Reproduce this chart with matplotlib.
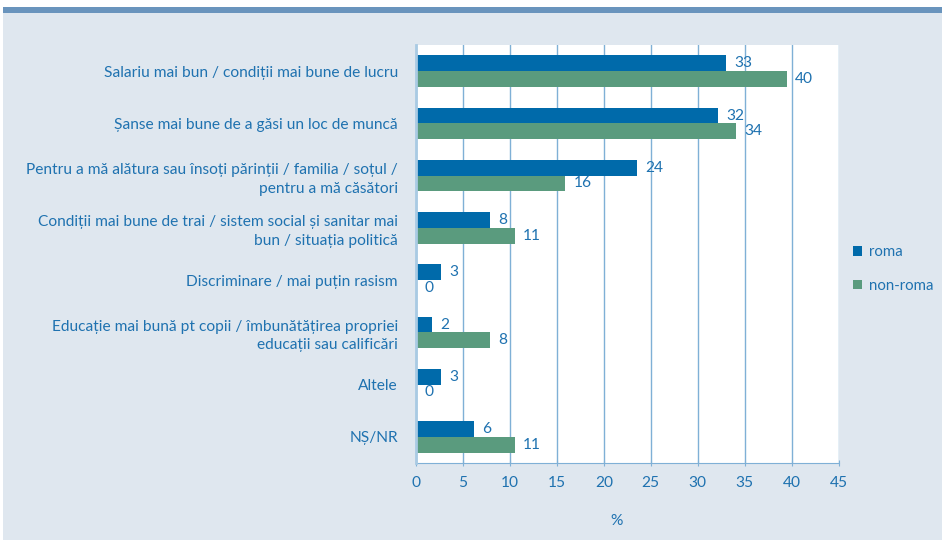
import numpy as np
import matplotlib
matplotlib.use("Agg")
import matplotlib.pyplot as plt
from matplotlib.patches import Rectangle

categories = [
    "Salariu mai bun / condiții mai bune de lucru",
    "Șanse mai bune de a găsi un loc de muncă",
    "Pentru a mă alătura sau însoți părinții / familia / soțul /\npentru a mă căsători",
    "Condiții mai bune de trai / sistem social și sanitar mai\nbun / situația politică",
    "Discriminare / mai puțin rasism",
    "Educație mai bună pt copii / îmbunătățirea propriei\neducații sau calificări",
    "Altele",
    "NȘ/NR",
]
roma = [33.0, 32.2, 23.5, 7.9, 2.7, 1.7, 2.7, 6.2]
non_roma = [39.5, 34.1, 15.9, 10.5, 0, 7.9, 0, 10.5]
roma_labels = ["33", "32", "24", "8", "3", "2", "3", "6"]
non_roma_labels = ["40", "34", "16", "11", "0", "8", "0", "11"]
xticks = [0, 5, 10, 15, 20, 25, 30, 35, 40, 45]

c_roma = "#006aaa"
c_non = "#5a9b7e"
c_text = "#1f72b0"
c_grid = "#7fb0d6"
bg = "#dfe7ef"
fs = 11.2

plt.rcParams["font.family"] = ["Lato", "DejaVu Sans"]

W, H = 942, 540
fig = plt.figure(figsize=(W / 100, H / 100), dpi=100)
fig.patch.set_facecolor("white")
fig.add_artist(Rectangle((3 / W, 0), 1, 1 - 13 / H, transform=fig.transFigure,
                         facecolor=bg, edgecolor="none", zorder=0))
fig.add_artist(Rectangle((3 / W, 1 - 13 / H), 1, 6 / H, transform=fig.transFigure,
                         facecolor="#6994bd", edgecolor="none", zorder=0))

ax = fig.add_axes([416 / W, 1 - 463 / H, (838.5 - 416) / W, (463 - 45) / H])
ax.set_facecolor("white")

y = np.arange(len(categories))
h = 0.3
ax.barh(y - h / 2, roma, height=h, color=c_roma, label="roma", zorder=3)
ax.barh(y + h / 2, non_roma, height=h, color=c_non, label="non-roma", zorder=3)

for i in range(len(categories)):
    ax.annotate(roma_labels[i], (roma[i], y[i] - h / 2), xytext=(6, 0),
                textcoords="offset points", va="center", ha="left",
                color=c_text, fontsize=fs)
    ax.annotate(non_roma_labels[i], (non_roma[i], y[i] + h / 2), xytext=(6, 0),
                textcoords="offset points", va="center", ha="left",
                color=c_text, fontsize=fs)

ax.set_xlim(0, 45)
ax.set_ylim(len(categories) - 0.5, -0.5)
ax.set_xticks(xticks)
ax.set_yticks(y)
ax.set_yticklabels(categories, fontsize=fs, color=c_text, linespacing=1.4)
ax.tick_params(axis="y", length=0, pad=13)
ax.tick_params(axis="x", colors=c_grid, labelcolor=c_text, labelsize=fs,
               direction="inout", length=5, pad=7)
ax.grid(axis="x", color=c_grid, linewidth=1, zorder=1)
for s in ["top", "right"]:
    ax.spines[s].set_visible(False)
ax.spines["left"].set_color("#a9cae3")
ax.spines["left"].set_linewidth(2)
ax.spines["bottom"].set_color(c_grid)
ax.spines["left"].set_zorder(4)

fig.text(617 / W, 1 - 521 / H, "%", color=c_text, fontsize=fs, ha="center", va="center")

ax.legend(loc="center left", bbox_to_anchor=(839 / W, 1 - 269 / H),
          bbox_transform=fig.transFigure, frameon=False, fontsize=10.8,
          labelcolor=c_text, handlelength=0.6, handleheight=0.6,
          handletextpad=0.5, labelspacing=1.3)

fig.savefig("out.png", dpi=100)
